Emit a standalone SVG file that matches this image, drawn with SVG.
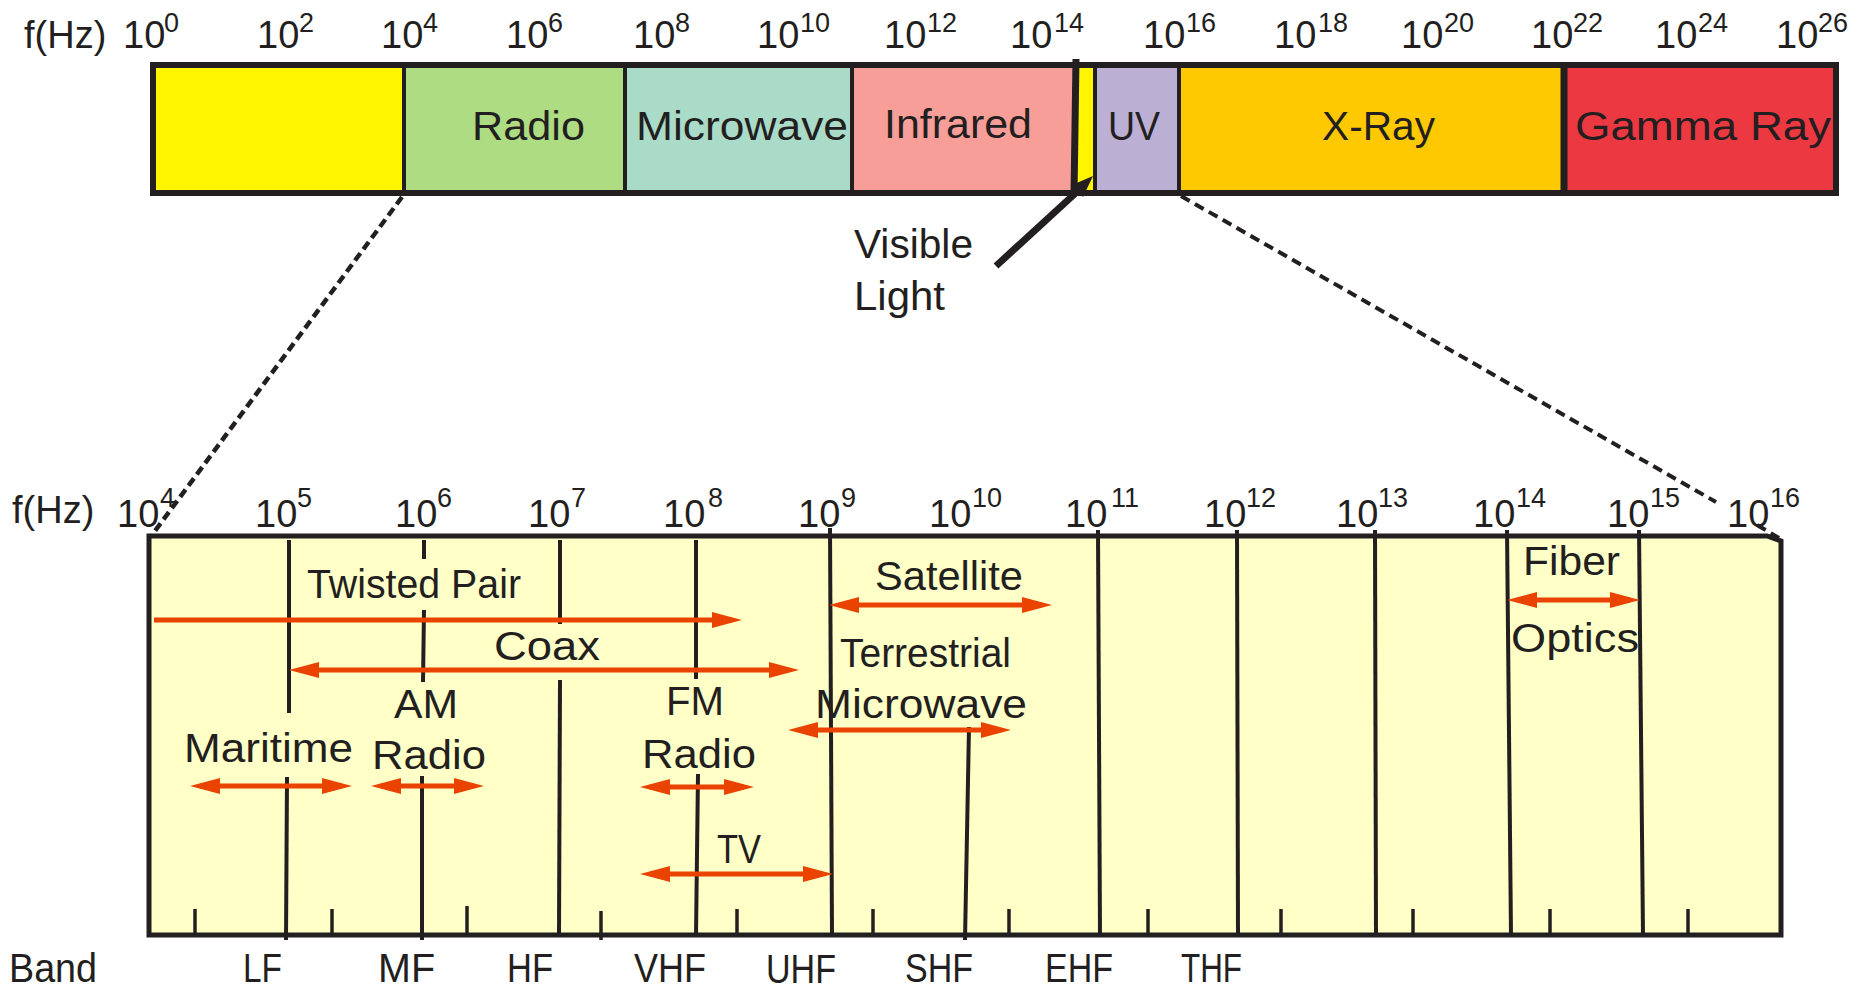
<svg xmlns="http://www.w3.org/2000/svg" width="1864" height="990" viewBox="0 0 1864 990">
  <defs>
    <style>
      text { font-family: "Liberation Sans", Arial, sans-serif; fill: #231F20; }
      .ax { font-size: 38px; }
      .sup { font-size: 27px; }
      .lbl { font-size: 41px; }
      .band { font-size: 41px; }
      .div { stroke: #231F20; stroke-width: 4; }
      .grid line { stroke: #231F20; stroke-width: 4; }
      .tick line { stroke: #231F20; stroke-width: 3.5; }
      .arr { stroke: #EA4300; stroke-width: 5; fill: none; }
      .dash { stroke: #231F20; fill: none; stroke-width: 4.5; stroke-dasharray: 9 5; }
    </style>
    <marker id="head" viewBox="0 0 30 16" refX="20" refY="8" markerWidth="30" markerHeight="16" markerUnits="userSpaceOnUse" orient="auto-start-reverse">
      <path d="M0,0 L30,8 L0,16 Z" fill="#EA4300"/>
    </marker>
  </defs>

  <rect width="1864" height="990" fill="#ffffff"/>

  <!-- upper frequency axis -->
  <g id="top-axis">
    <text class="ax" x="24" y="48">f(Hz)</text>
    <text class="ax" x="123" y="48">10<tspan class="sup" x="164" y="32">0</tspan></text>
    <text class="ax" x="257" y="48">10<tspan class="sup" x="299" y="32">2</tspan></text>
    <text class="ax" x="381" y="48">10<tspan class="sup" x="423" y="32">4</tspan></text>
    <text class="ax" x="506" y="48">10<tspan class="sup" x="548" y="32">6</tspan></text>
    <text class="ax" x="633" y="48">10<tspan class="sup" x="675" y="32">8</tspan></text>
    <text class="ax" x="757" y="48">10<tspan class="sup" x="800" y="32">10</tspan></text>
    <text class="ax" x="884" y="48">10<tspan class="sup" x="927" y="32">12</tspan></text>
    <text class="ax" x="1010" y="48">10<tspan class="sup" x="1054" y="32">14</tspan></text>
    <text class="ax" x="1143" y="48">10<tspan class="sup" x="1186" y="32">16</tspan></text>
    <text class="ax" x="1274" y="48">10<tspan class="sup" x="1318" y="32">18</tspan></text>
    <text class="ax" x="1401" y="48">10<tspan class="sup" x="1444" y="32">20</tspan></text>
    <text class="ax" x="1531" y="48">10<tspan class="sup" x="1573" y="32">22</tspan></text>
    <text class="ax" x="1655" y="48">10<tspan class="sup" x="1698" y="32">24</tspan></text>
    <text class="ax" x="1776" y="48">10<tspan class="sup" x="1818" y="32">26</tspan></text>
  </g>

  <!-- spectrum bar -->
  <g id="band-low"><rect x="153" y="65" width="251" height="128" fill="#FFF500"/></g>
  <g id="band-radio">
    <rect x="404" y="65" width="221" height="128" fill="#AEDC82"/>
    <text class="lbl" x="472" y="140" textLength="113" lengthAdjust="spacingAndGlyphs">Radio</text>
  </g>
  <g id="band-microwave">
    <rect x="625" y="65" width="227" height="128" fill="#AADBC8"/>
    <text class="lbl" x="636" y="140" textLength="212" lengthAdjust="spacingAndGlyphs">Microwave</text>
  </g>
  <g id="band-infrared">
    <rect x="852" y="65" width="223" height="128" fill="#F89E98"/>
    <text class="lbl" x="884" y="138" textLength="148" lengthAdjust="spacingAndGlyphs">Infrared</text>
  </g>
  <g id="band-visible"><polygon points="1079,65 1095,65 1095,193 1076,193" fill="#FFF500"/></g>
  <g id="band-uv">
    <rect x="1095" y="65" width="84" height="128" fill="#BBAFD4"/>
    <text class="lbl" x="1108" y="140" textLength="52" lengthAdjust="spacingAndGlyphs">UV</text>
  </g>
  <g id="band-xray">
    <rect x="1179" y="65" width="385" height="128" fill="#FEC900"/>
    <text class="lbl" x="1322" y="140" textLength="113" lengthAdjust="spacingAndGlyphs">X-Ray</text>
  </g>
  <g id="band-gamma">
    <rect x="1564" y="65" width="272" height="128" fill="#EC3840"/>
    <text class="lbl" x="1575" y="140" textLength="256" lengthAdjust="spacingAndGlyphs">Gamma Ray</text>
  </g>
  <g id="bar-frame">
    <line class="div" x1="404" y1="65" x2="404" y2="193"/>
    <line class="div" x1="625" y1="65" x2="625" y2="193"/>
    <line class="div" x1="852" y1="65" x2="852" y2="193"/>
    <line class="div" x1="1076" y1="59" x2="1074" y2="195" style="stroke-width:7"/>
    <line class="div" x1="1095" y1="65" x2="1095" y2="193"/>
    <line class="div" x1="1179" y1="65" x2="1179" y2="193"/>
    <line class="div" x1="1564" y1="65" x2="1564" y2="193" style="stroke-width:7"/>
    <rect x="153" y="65" width="1683" height="128" fill="none" stroke="#231F20" stroke-width="6"/>
  </g>

  <g id="visible-light-label">
    <text class="lbl" x="854" y="258" textLength="119" lengthAdjust="spacingAndGlyphs">Visible</text>
    <text class="lbl" x="854" y="310" textLength="91" lengthAdjust="spacingAndGlyphs">Light</text>
  </g>

  <!-- lower, expanded axis -->
  <g id="bottom-axis">
    <text class="ax" x="12" y="523">f(Hz)</text>
    <text class="ax" x="117" y="527">10<tspan class="sup" x="160" y="507">4</tspan></text>
    <text class="ax" x="255" y="527">10<tspan class="sup" x="297" y="507">5</tspan></text>
    <text class="ax" x="395" y="527">10<tspan class="sup" x="437" y="507">6</tspan></text>
    <text class="ax" x="528" y="527">10<tspan class="sup" x="571" y="507">7</tspan></text>
    <text class="ax" x="663" y="527">10<tspan class="sup" x="708" y="507">8</tspan></text>
    <text class="ax" x="798" y="527">10<tspan class="sup" x="841" y="507">9</tspan></text>
    <text class="ax" x="929" y="527">10<tspan class="sup" x="972" y="507">10</tspan></text>
    <text class="ax" x="1065" y="527">10<tspan class="sup" x="1111" y="507">11</tspan></text>
    <text class="ax" x="1204" y="527">10<tspan class="sup" x="1246" y="507">12</tspan></text>
    <text class="ax" x="1336" y="527">10<tspan class="sup" x="1378" y="507">13</tspan></text>
    <text class="ax" x="1473" y="527">10<tspan class="sup" x="1516" y="507">14</tspan></text>
    <text class="ax" x="1607" y="527">10<tspan class="sup" x="1650" y="507">15</tspan></text>
    <text class="ax" x="1727" y="527">10<tspan class="sup" x="1770" y="507">16</tspan></text>
  </g>

  <g id="chart-frame">
    <path d="M149,536 H1767 L1781,541 V935 H149 Z" fill="#FFFFC8" stroke="#231F20" stroke-width="5"/>
  </g>

  <g id="decade-lines" class="grid">
    <line x1="289" y1="540" x2="289" y2="713"/>
    <line x1="287" y1="777" x2="286" y2="940"/>
    <line x1="424" y1="540" x2="424" y2="559"/>
    <line x1="424" y1="610" x2="423" y2="682"/>
    <line x1="422" y1="776" x2="422" y2="940"/>
    <line x1="560" y1="540" x2="560" y2="624"/>
    <line x1="560" y1="680" x2="559" y2="935"/>
    <line x1="696" y1="540" x2="696" y2="679"/>
    <line x1="698" y1="774" x2="696" y2="935"/>
    <line x1="830" y1="528" x2="832" y2="935"/>
    <line x1="969" y1="727" x2="965" y2="940"/>
    <line x1="1098" y1="530" x2="1100" y2="935"/>
    <line x1="1237" y1="530" x2="1238" y2="935"/>
    <line x1="1375" y1="530" x2="1376" y2="935"/>
    <line x1="1507" y1="530" x2="1511" y2="935"/>
    <line x1="1639" y1="530" x2="1643" y2="935"/>
  </g>

  <g id="half-decade-ticks" class="tick">
    <line x1="195" y1="909" x2="195" y2="935"/>
    <line x1="332" y1="909" x2="332" y2="935"/>
    <line x1="467" y1="906" x2="467" y2="935"/>
    <line x1="601" y1="911" x2="601" y2="940"/>
    <line x1="737" y1="909" x2="737" y2="935"/>
    <line x1="873" y1="909" x2="873" y2="935"/>
    <line x1="1009" y1="909" x2="1009" y2="935"/>
    <line x1="1148" y1="909" x2="1148" y2="935"/>
    <line x1="1281" y1="909" x2="1281" y2="935"/>
    <line x1="1413" y1="909" x2="1413" y2="935"/>
    <line x1="1550" y1="909" x2="1550" y2="935"/>
    <line x1="1688" y1="909" x2="1688" y2="935"/>
  </g>

  <!-- media and services -->
  <g id="twisted-pair">
    <text class="lbl" x="307" y="598" textLength="214" lengthAdjust="spacingAndGlyphs">Twisted Pair</text>
    <path class="arr" d="M154,620 H732" marker-end="url(#head)"/>
  </g>
  <g id="coax">
    <text class="lbl" x="494" y="660" textLength="106" lengthAdjust="spacingAndGlyphs">Coax</text>
    <path class="arr" d="M299,670 H789" marker-start="url(#head)" marker-end="url(#head)"/>
  </g>
  <g id="satellite">
    <text class="lbl" x="875" y="590" textLength="148" lengthAdjust="spacingAndGlyphs">Satellite</text>
    <path class="arr" d="M839,605 H1042" marker-start="url(#head)" marker-end="url(#head)"/>
  </g>
  <g id="terrestrial-microwave">
    <text class="lbl" x="840" y="667" textLength="171" lengthAdjust="spacingAndGlyphs">Terrestrial</text>
    <text class="lbl" x="815" y="718" textLength="212" lengthAdjust="spacingAndGlyphs">Microwave</text>
    <path class="arr" d="M798,730 H1001" marker-start="url(#head)" marker-end="url(#head)"/>
  </g>
  <g id="maritime">
    <text class="lbl" x="184" y="762" textLength="169" lengthAdjust="spacingAndGlyphs">Maritime</text>
    <path class="arr" d="M200,786 H342" marker-start="url(#head)" marker-end="url(#head)"/>
  </g>
  <g id="am-radio">
    <text class="lbl" x="394" y="718" textLength="64" lengthAdjust="spacingAndGlyphs">AM</text>
    <text class="lbl" x="372" y="769" textLength="114" lengthAdjust="spacingAndGlyphs">Radio</text>
    <path class="arr" d="M381,786 H474" marker-start="url(#head)" marker-end="url(#head)"/>
  </g>
  <g id="fm-radio">
    <text class="lbl" x="666" y="715" textLength="58" lengthAdjust="spacingAndGlyphs">FM</text>
    <text class="lbl" x="642" y="768" textLength="114" lengthAdjust="spacingAndGlyphs">Radio</text>
    <path class="arr" d="M650,787 H744" marker-start="url(#head)" marker-end="url(#head)"/>
  </g>
  <g id="tv">
    <text class="lbl" x="717" y="863" textLength="44" lengthAdjust="spacingAndGlyphs">TV</text>
    <path class="arr" d="M650,874 H823" marker-start="url(#head)" marker-end="url(#head)"/>
  </g>
  <g id="fiber-optics">
    <text class="lbl" x="1523" y="575" textLength="97" lengthAdjust="spacingAndGlyphs">Fiber</text>
    <text class="lbl" x="1511" y="652" textLength="128" lengthAdjust="spacingAndGlyphs">Optics</text>
    <path class="arr" d="M1517,600 H1630" marker-start="url(#head)" marker-end="url(#head)"/>
  </g>

  <!-- band names -->
  <g id="band-names">
    <text class="band" x="9" y="982" textLength="88" lengthAdjust="spacingAndGlyphs">Band</text>
    <text class="band" x="243" y="982" textLength="39" lengthAdjust="spacingAndGlyphs">LF</text>
    <text class="band" x="378" y="982" textLength="57" lengthAdjust="spacingAndGlyphs">MF</text>
    <text class="band" x="507" y="982" textLength="46" lengthAdjust="spacingAndGlyphs">HF</text>
    <text class="band" x="634" y="982" textLength="72" lengthAdjust="spacingAndGlyphs">VHF</text>
    <text class="band" x="766" y="983" textLength="70" lengthAdjust="spacingAndGlyphs">UHF</text>
    <text class="band" x="905" y="982" textLength="68" lengthAdjust="spacingAndGlyphs">SHF</text>
    <text class="band" x="1045" y="982" textLength="68" lengthAdjust="spacingAndGlyphs">EHF</text>
    <text class="band" x="1181" y="982" textLength="61" lengthAdjust="spacingAndGlyphs">THF</text>
  </g>

  <!-- connectors: zoom guides and the visible-light pointer -->
  <g id="connectors">
    <line class="dash" x1="402" y1="197" x2="152" y2="535"/>
    <line class="dash" x1="1181" y1="196" x2="1716" y2="502" style="stroke-width:4;stroke-dasharray:10 6"/>
    <line class="dash" x1="1757" y1="525" x2="1779" y2="538" style="stroke-width:4;stroke-dasharray:10 6"/>
    <line x1="996" y1="266" x2="1080" y2="189" stroke="#231F20" stroke-width="7"/>
    <polygon points="1093,176 1083,197 1072,185" fill="#231F20"/>
  </g>
</svg>
